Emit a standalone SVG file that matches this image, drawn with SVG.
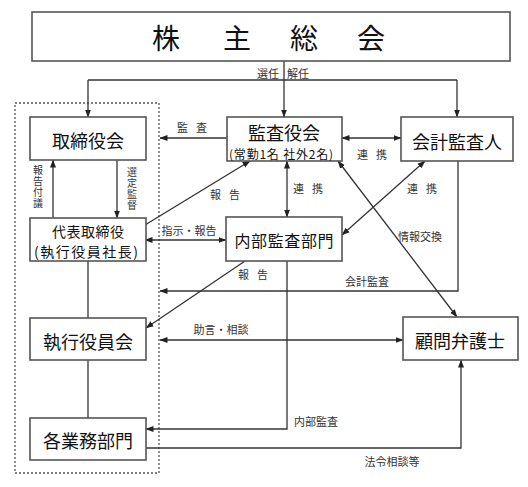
<svg xmlns="http://www.w3.org/2000/svg" width="528" height="487" viewBox="0 0 528 487">
<style>
.box{fill:#fff;stroke:#555;stroke-width:1.6}
.t{font-family:"Noto Sans CJK JP","Liberation Sans",sans-serif;fill:#111;dominant-baseline:central;text-anchor:middle}
.big{font-size:18px}
.mid{font-size:16px}
.sm{font-size:11px;fill:#333}
.vt{font-size:10px;fill:#333;writing-mode:vertical-rl;letter-spacing:1px}
.ln{fill:none;stroke:#333;stroke-width:1.3}
</style>
<defs>
<marker id="ah" viewBox="0 0 8 8" refX="7.5" refY="4" markerWidth="8" markerHeight="8" markerUnits="userSpaceOnUse" orient="auto-start-reverse">
<path d="M0,1 L8,4 L0,7 Z" fill="#222"/>
</marker>
</defs>
<rect x="0" y="0" width="528" height="487" fill="#fff"/>
<rect x="15" y="103" width="144" height="370" fill="none" stroke="#555" stroke-width="1.3" stroke-dasharray="2,2"/>
<g id="connectors">
<path class="ln" d="M284,61 V117" marker-end="url(#ah)"/>
<path class="ln" d="M88,80 H457"/>
<path class="ln" d="M88,80 V117" marker-end="url(#ah)"/>
<path class="ln" d="M457,80 V117" marker-end="url(#ah)"/>
<path class="ln" d="M227,138 H160" marker-end="url(#ah)"/>
<path class="ln" d="M342,138 H401" marker-start="url(#ah)" marker-end="url(#ah)"/>
<path class="ln" d="M287,161 V217" marker-start="url(#ah)" marker-end="url(#ah)"/>
<path class="ln" d="M53,218 V160" marker-end="url(#ah)"/>
<path class="ln" d="M117,160 V218" marker-end="url(#ah)"/>
<path class="ln" d="M145,225 L250,161" marker-end="url(#ah)"/>
<path class="ln" d="M145,240 H226" marker-start="url(#ah)" marker-end="url(#ah)"/>
<path class="ln" d="M425,161 L342,235" marker-start="url(#ah)" marker-end="url(#ah)"/>
<path class="ln" d="M338,161 L457,317" marker-start="url(#ah)" marker-end="url(#ah)"/>
<path class="ln" d="M458,161 V291 H160" marker-end="url(#ah)"/>
<path class="ln" d="M245,261 L146,328" marker-end="url(#ah)"/>
<path class="ln" d="M88,261 V318"/>
<path class="ln" d="M88,360 V418"/>
<path class="ln" d="M160,340 H403" marker-start="url(#ah)" marker-end="url(#ah)"/>
<path class="ln" d="M287,261 V429 H146" marker-end="url(#ah)"/>
<path class="ln" d="M145,448 H461 V360" marker-end="url(#ah)"/>
</g>
<g id="labels">
<text class="t sm" x="268" y="73">選任</text>
<text class="t sm" x="298" y="73">解任</text>
<text class="t sm" x="192" y="127" textLength="30" lengthAdjust="spacing">監 査</text>
<text class="t sm" x="372" y="154" textLength="30" lengthAdjust="spacing">連 携</text>
<text class="t sm" x="308" y="188" textLength="30" lengthAdjust="spacing">連 携</text>
<text class="t sm" x="422" y="188" textLength="30" lengthAdjust="spacing">連 携</text>
<text class="t sm" x="420" y="236">情報交換</text>
<text class="t sm" x="225" y="194" textLength="30" lengthAdjust="spacing">報 告</text>
<text class="t sm" x="189" y="230">指示・報告</text>
<text class="t sm" x="253" y="274" textLength="30" lengthAdjust="spacing">報 告</text>
<text class="t sm" x="367" y="281">会計監査</text>
<text class="t sm" x="221" y="329">助言・相談</text>
<text class="t sm" x="316" y="421">内部監査</text>
<text class="t sm" x="392" y="461">法令相談等</text>
<text class="t vt" x="38" y="187">報告付議</text>
<text class="t vt" x="132" y="189">選定監督</text>
</g>
<g id="shareholders">
<rect class="box" x="32" y="12" width="478" height="49"/>
<text class="t" style="font-size:28px" x="166 237 304 371" y="37">株主総会</text>
</g>
<g id="board">
<rect class="box" x="30" y="117" width="116" height="43"/>
<text class="t big" x="88" y="140">取締役会</text>
</g>
<g id="auditors">
<rect class="box" x="227" y="117" width="115" height="44"/>
<text class="t big" x="284" y="132">監査役会</text>
<text class="t" style="font-size:12px" x="281" y="153" textLength="104" lengthAdjust="spacing">(常勤1名 社外2名)</text>
</g>
<g id="accounting-auditor">
<rect class="box" x="401" y="117" width="112" height="44"/>
<text class="t big" x="457" y="141">会計監査人</text>
</g>
<g id="representative">
<rect class="box" x="30" y="218" width="116" height="43"/>
<text class="t" style="font-size:14px" x="88" y="230.5" textLength="72" lengthAdjust="spacing">代表取締役</text>
<text class="t" style="font-size:14px" x="86" y="251" textLength="104" lengthAdjust="spacing">(執行役員社長)</text>
</g>
<g id="internal-audit">
<rect class="box" x="226" y="217" width="116" height="44"/>
<text class="t mid" x="284" y="240" textLength="99" lengthAdjust="spacing">内部監査部門</text>
</g>
<g id="executive-committee">
<rect class="box" x="30" y="318" width="116" height="42"/>
<text class="t big" x="88" y="341">執行役員会</text>
</g>
<g id="departments">
<rect class="box" x="30" y="418" width="116" height="42"/>
<text class="t big" x="88" y="440">各業務部門</text>
</g>
<g id="lawyer">
<rect class="box" x="403" y="317" width="115" height="43"/>
<text class="t big" x="460" y="340">顧問弁護士</text>
</g>
</svg>
